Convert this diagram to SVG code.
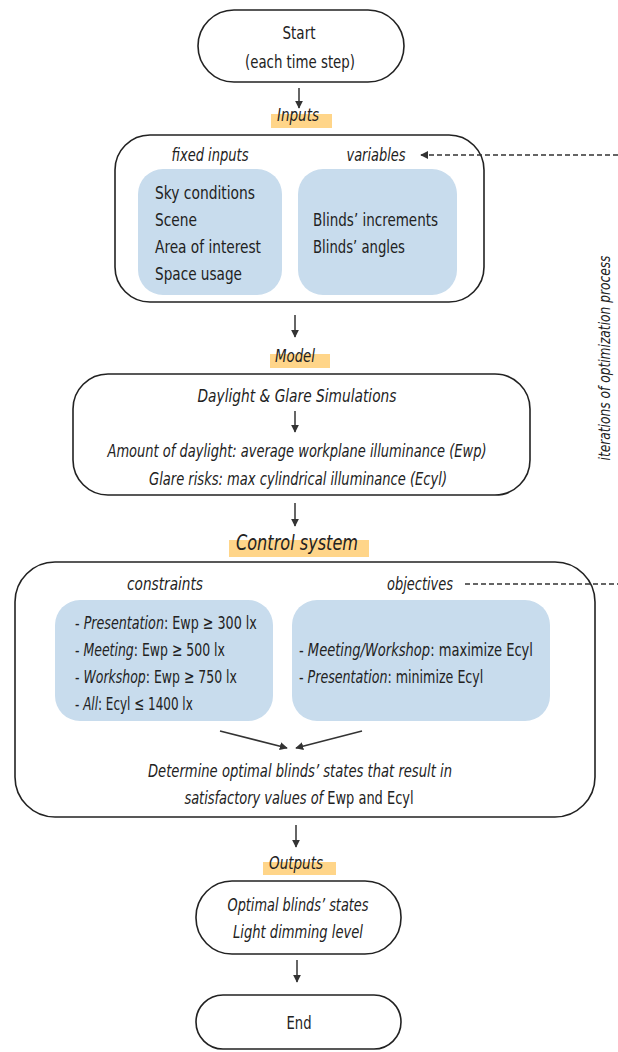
<svg xmlns="http://www.w3.org/2000/svg" width="618" height="1052" viewBox="0 0 618 1052">
<style>
text{font-family:"DejaVu Sans Condensed","Liberation Sans Narrow","Liberation Sans",sans-serif;fill:#222;font-size:18.5px}
.i{font-style:italic}
.m{text-anchor:middle}
.box{fill:#fff;stroke:#222;stroke-width:1.6}
.blue{fill:#c8dced;stroke:none}
.hl{fill:#ffd589}
.ln{stroke:#333;stroke-width:1.5;fill:none}
.dash{stroke:#333;stroke-width:1.5;fill:none;stroke-dasharray:5 3}
</style>
<defs>
<marker id="ah" viewBox="0 0 10 10" refX="9" refY="5" markerWidth="8" markerHeight="8" markerUnits="userSpaceOnUse" orient="auto"><path d="M0,0 L10,5 L0,10 z" fill="#333"/></marker>
</defs>
<rect x="0" y="0" width="618" height="1052" fill="#fff"/>

<g id="labels">
<rect class="hl" x="271" y="114" width="61" height="14"/>
<text class="i m" x="298" y="121" textLength="42" lengthAdjust="spacingAndGlyphs">Inputs</text>
<rect class="hl" x="270" y="354" width="60" height="14"/>
<text class="i m" x="295" y="362" textLength="40" lengthAdjust="spacingAndGlyphs">Model</text>
<rect class="hl" x="229" y="540" width="140" height="17"/>
<text class="i m" x="297" y="550" style="font-size:22px" textLength="122" lengthAdjust="spacingAndGlyphs">Control system</text>
<rect class="hl" x="263" y="862" width="73" height="13"/>
<text class="i m" x="296" y="869" textLength="54" lengthAdjust="spacingAndGlyphs">Outputs</text>
<text class="i m" transform="translate(610,358) rotate(-90)" style="font-size:15px" textLength="205" lengthAdjust="spacingAndGlyphs">iterations of optimization process</text>
</g>

<g id="start">
<rect class="box" x="198" y="10" width="206" height="72" rx="36"/>
<text class="m" x="299" y="39" textLength="33" lengthAdjust="spacingAndGlyphs">Start</text>
<text class="m" x="300" y="68" textLength="110" lengthAdjust="spacingAndGlyphs">(each time step)</text>
</g>

<g id="inputs">
<rect class="box" x="115" y="135" width="369" height="167" rx="35"/>
<text class="i m" x="210" y="161" textLength="77" lengthAdjust="spacingAndGlyphs">fixed inputs</text>
<text class="i m" x="376" y="161" textLength="59" lengthAdjust="spacingAndGlyphs">variables</text>
<rect class="blue" x="138" y="169" width="144" height="126" rx="25"/>
<rect class="blue" x="298" y="169" width="159" height="126" rx="25"/>
<text x="155" y="199" textLength="100" lengthAdjust="spacingAndGlyphs">Sky conditions</text>
<text x="155" y="226" textLength="42" lengthAdjust="spacingAndGlyphs">Scene</text>
<text x="155" y="253" textLength="106" lengthAdjust="spacingAndGlyphs">Area of interest</text>
<text x="155" y="280" textLength="87" lengthAdjust="spacingAndGlyphs">Space usage</text>
<text x="313" y="226" textLength="125" lengthAdjust="spacingAndGlyphs">Blinds’ increments</text>
<text x="313" y="253" textLength="92" lengthAdjust="spacingAndGlyphs">Blinds’ angles</text>
</g>

<g id="model">
<rect class="box" x="73" y="374" width="457" height="121" rx="35"/>
<text class="i m" x="297" y="402" textLength="199" lengthAdjust="spacingAndGlyphs">Daylight &amp; Glare Simulations</text>
<text class="i m" x="297" y="457" textLength="379" lengthAdjust="spacingAndGlyphs">Amount of daylight: average workplane illuminance (Ewp)</text>
<text class="i m" x="298" y="485" textLength="298" lengthAdjust="spacingAndGlyphs">Glare risks: max cylindrical illuminance (Ecyl)</text>
</g>

<g id="control">
<rect class="box" x="15" y="562" width="580" height="255" rx="40"/>
<text class="i m" x="165" y="590" textLength="76" lengthAdjust="spacingAndGlyphs">constraints</text>
<text class="i m" x="420" y="590" textLength="66" lengthAdjust="spacingAndGlyphs">objectives</text>
<rect class="blue" x="55" y="600" width="218" height="121" rx="25"/>
<rect class="blue" x="292" y="600" width="258" height="121" rx="25"/>
<text transform="translate(75,629) scale(0.764,1)">- <tspan class="i">Presentation</tspan>: Ewp ≥ 300 lx</text>
<text transform="translate(75,656) scale(0.75,1)">- <tspan class="i">Meeting</tspan>: Ewp ≥ 500 lx</text>
<text transform="translate(75,683) scale(0.75,1)">- <tspan class="i">Workshop</tspan>: Ewp ≥ 750 lx</text>
<text transform="translate(75,710) scale(0.72,1)">- <tspan class="i">All</tspan>: Ecyl ≤ 1400 lx</text>
<text transform="translate(299,656) scale(0.785,1)">- <tspan class="i">Meeting/Workshop</tspan>: maximize Ecyl</text>
<text transform="translate(299,683) scale(0.76,1)">- <tspan class="i">Presentation</tspan>: minimize Ecyl</text>
<text class="i m" x="300" y="777" textLength="304" lengthAdjust="spacingAndGlyphs">Determine optimal blinds’ states that result in</text>
<text class="m" transform="translate(299,804) scale(0.78,1)"><tspan class="i">satisfactory values of</tspan> Ewp and Ecyl</text>
</g>

<g id="outputs">
<rect class="box" x="196" y="881" width="205" height="73" rx="36"/>
<text class="i m" x="298" y="911" textLength="141" lengthAdjust="spacingAndGlyphs">Optimal blinds’ states</text>
<text class="i m" x="298" y="938" textLength="130" lengthAdjust="spacingAndGlyphs">Light dimming level</text>
</g>

<g id="end">
<rect class="box" x="196" y="995" width="205" height="54" rx="27"/>
<text class="m" x="299" y="1029" textLength="25" lengthAdjust="spacingAndGlyphs">End</text>
</g>

<g id="connectors">
<line class="ln" x1="299" y1="88" x2="299" y2="108" marker-end="url(#ah)"/>
<line class="ln" x1="295" y1="315" x2="295" y2="337" marker-end="url(#ah)"/>
<line class="ln" x1="295" y1="411" x2="295" y2="432" marker-end="url(#ah)"/>
<line class="ln" x1="295" y1="503" x2="295" y2="526" marker-end="url(#ah)"/>
<line class="ln" x1="220" y1="731" x2="287" y2="748" marker-end="url(#ah)"/>
<line class="ln" x1="362" y1="731" x2="296" y2="748" marker-end="url(#ah)"/>
<line class="ln" x1="296" y1="825" x2="296" y2="847" marker-end="url(#ah)"/>
<line class="ln" x1="297" y1="960" x2="297" y2="982" marker-end="url(#ah)"/>
<line class="dash" x1="618" y1="155" x2="421" y2="155" marker-end="url(#ah)"/>
<line class="dash" x1="465" y1="584" x2="618" y2="584"/>
</g>
</svg>
